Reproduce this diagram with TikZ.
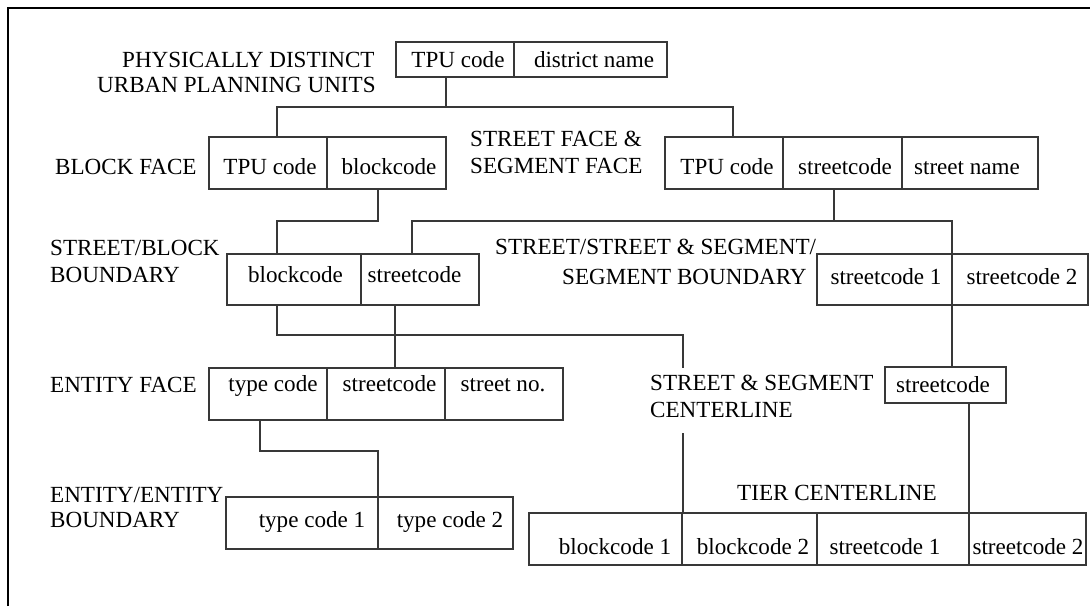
\documentclass[tikz,border=0pt]{standalone}
\usepackage{fontspec}
\setmainfont{Liberation Serif}
\begin{document}
\begin{tikzpicture}[x=1pt,y=-1pt,
  font=\fontsize{23.1}{27}\selectfont,
  cell/.style={draw=black!78, line width=1.3pt, inner sep=0pt, outer sep=0pt, anchor=north west},
  txt/.style={anchor=base, inner sep=0pt},
  lbl/.style={anchor=base west, inner sep=0pt},
  wire/.style={draw=black!78, line width=1.3pt},
  frame/.style={draw=black, line width=2pt}]
\useasboundingbox (0,0) rectangle (1090,606);
\draw[frame] (8,606) -- (8,8) -- (1090,8);

% physically distinct urban planning units
\node[cell, minimum width=118, minimum height=35] (tA) at (396,42) {};
\node[cell, minimum width=153, minimum height=35] (tB) at (514,42) {};
\node[txt] (tAt) at (458,67.5) {TPU code};
\node[txt] (tBt) at (594,67.5) {district name};
\node[lbl] (l1a) at (122,67.6) {PHYSICALLY DISTINCT};
\node[lbl] (l1b) at (97,92.6) {URBAN PLANNING UNITS};

% block face
\node[cell, minimum width=118, minimum height=52] (bA) at (209,137) {};
\node[cell, minimum width=119, minimum height=52] (bB) at (327,137) {};
\node[txt] (bAt) at (270,174.5) {TPU code};
\node[txt] (bBt) at (389,174.5) {blockcode};
\node[lbl] (l2) at (55,174.6) {BLOCK FACE};

% street face & segment face
\node[cell, minimum width=118, minimum height=52] (sA) at (665,137) {};
\node[cell, minimum width=119, minimum height=52] (sB) at (783,137) {};
\node[cell, minimum width=136, minimum height=52] (sC) at (902,137) {};
\node[txt] (sAt) at (727,174.5) {TPU code};
\node[txt] (sBt) at (845,174.5) {streetcode};
\node[txt] (sCt) at (967,174.5) {street name};
\node[lbl] (l3a) at (470,146.6) {STREET FACE \&};
\node[lbl] (l3b) at (470,173.6) {SEGMENT FACE};

% street/block boundary
\node[cell, minimum width=134, minimum height=51] (kA) at (227,254) {};
\node[cell, minimum width=118, minimum height=51] (kB) at (361,254) {};
\node[txt] (kAt) at (295.5,282.5) {blockcode};
\node[txt] (kBt) at (414.5,282.5) {streetcode};
\node[lbl] (l4a) at (50,255.6) {STREET/BLOCK};
\node[lbl] (l4b) at (50,282.6) {BOUNDARY};

% street/street & segment/segment boundary
\node[cell, minimum width=135, minimum height=51] (qA) at (817,254) {};
\node[cell, minimum width=136, minimum height=51] (qB) at (952,254) {};
\node[txt] (qAt) at (886,284.5) {streetcode 1};
\node[txt] (qBt) at (1022,284.5) {streetcode 2};
\node[lbl] (l5a) at (495,254.6) {STREET/STREET \& SEGMENT/};
\node[lbl] (l5b) at (562,284.6) {SEGMENT BOUNDARY};

% entity face
\node[cell, minimum width=118, minimum height=52] (eA) at (209,368) {};
\node[cell, minimum width=118, minimum height=52] (eB) at (327,368) {};
\node[cell, minimum width=118, minimum height=52] (eC) at (445,368) {};
\node[txt] (eAt) at (273,391.5) {type code};
\node[txt] (eBt) at (389.5,391.5) {streetcode};
\node[txt] (eCt) at (503,391.5) {street no.};
\node[lbl] (l6) at (50,392.6) {ENTITY FACE};

% street & segment centerline
\node[cell, minimum width=121, minimum height=36] (sc) at (885,367) {};
\node[txt] (sct) at (943,392.5) {streetcode};
\node[lbl] (l7a) at (650,390.6) {STREET \& SEGMENT};
\node[lbl] (l7b) at (650,417.6) {CENTERLINE};

% entity/entity boundary
\node[cell, minimum width=152, minimum height=52] (fA) at (226,497) {};
\node[cell, minimum width=135, minimum height=52] (fB) at (378,497) {};
\node[txt] (fAt) at (312,527.5) {type code 1};
\node[txt] (fBt) at (450,527.5) {type code 2};
\node[lbl] (l8a) at (50,502.6) {ENTITY/ENTITY};
\node[lbl] (l8b) at (50,527.6) {BOUNDARY};

% tier centerline
\node[cell, minimum width=153, minimum height=52] (gA) at (529,513) {};
\node[cell, minimum width=135, minimum height=52] (gB) at (682,513) {};
\node[cell, minimum width=152, minimum height=52] (gC) at (817,513) {};
\node[cell, minimum width=117, minimum height=52] (gD) at (969,513) {};
\node[txt] (gAt) at (615,554.5) {blockcode 1};
\node[txt] (gBt) at (753,554.5) {blockcode 2};
\node[txt] (gCt) at (885,554.5) {streetcode 1};
\node[txt] (gDt) at (1028,554.5) {streetcode 2};
\node[lbl] (l9) at (737,500.6) {TIER CENTERLINE};

% connectors
\coordinate (j1) at (446,107);
\coordinate (j1a) at (277,107);
\coordinate (j1b) at (733,107);
\draw[wire] (j1 |- tA.south) -- (j1);
\draw[wire] (j1a |- bA.north) -- (j1a) -- (j1b) -- (j1b |- sA.north);

\coordinate (j2) at (378,221);
\coordinate (j2a) at (277,221);
\draw[wire] (j2 |- bB.south) -- (j2) -- (j2a) -- (j2a |- kA.north);

\coordinate (j3) at (834,221);
\coordinate (j3a) at (412,221);
\coordinate (j3b) at (952,221);
\draw[wire] (j3 |- sB.south) -- (j3);
\draw[wire] (j3a |- kB.north) -- (j3a) -- (j3b) -- (j3b |- sc.north);

\coordinate (j4) at (277,335);
\coordinate (j4a) at (683,335);
\coordinate (j4b) at (683,368);
\draw[wire] (j4 |- kA.south) -- (j4) -- (j4a) -- (j4b);

\coordinate (j5) at (395,335);
\draw[wire] (j5 |- kB.south) -- (j5 |- eB.north);

\coordinate (j6) at (260,451);
\coordinate (j6a) at (378,451);
\draw[wire] (j6 |- eA.south) -- (j6) -- (j6a) -- (j6a |- fA.north);

\coordinate (j7) at (683,433);
\draw[wire] (j7) -- (j7 |- gA.north);

\coordinate (j8) at (969,460);
\draw[wire] (j8 |- sc.south) -- (j8 |- gC.north);
\end{tikzpicture}
\end{document}
